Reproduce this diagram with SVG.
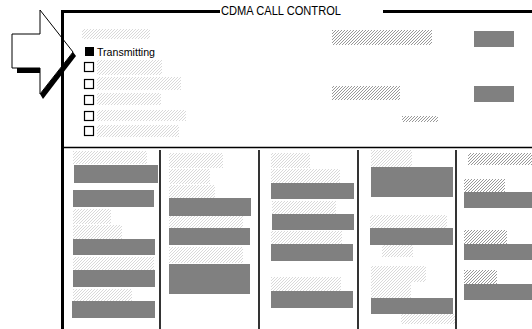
<svg xmlns="http://www.w3.org/2000/svg" width="532" height="329" viewBox="0 0 532 329">
<defs>
<pattern id="hl" patternUnits="userSpaceOnUse" width="3" height="3">
<path d="M-1,1 L1,-1 M0,3 L3,0 M2,4 L4,2" stroke="#cfcfcf" stroke-width="0.8"/>
</pattern>
<pattern id="hd" patternUnits="userSpaceOnUse" width="3" height="3">
<path d="M-1,1 L1,-1 M0,3 L3,0 M2,4 L4,2" stroke="#8c8c8c" stroke-width="0.9"/>
</pattern>
</defs>
<style>
.hl{fill:url(#hl)}
.hd{fill:url(#hd)}
.g{fill:#808080}
.cb{fill:#fff;stroke:#000;stroke-width:1.2}
.t{font-family:"Liberation Sans",Arial,sans-serif;fill:#000}
.div{stroke:#000;stroke-width:1.6}
</style>
<rect width="532" height="329" fill="#fff"/>

<g id="arrow">
<polygon points="17,68 40,68 40,73 17,73" fill="#000"/>
<polygon points="73,52 76,56 43,99 40,94" fill="#000"/>
<polygon points="12,34 40,34 40,10 73,52 40,94 40,68 12,68" fill="#fff" stroke="#000" stroke-width="1"/>
</g>

<g id="frame">
<rect x="61" y="10" width="3" height="319" fill="#000"/>
<rect x="61" y="10" width="159" height="3" fill="#000"/>
<rect x="383" y="10" width="149" height="3" fill="#000"/>
<text class="t" x="221" y="14.5" font-size="13" textLength="120" lengthAdjust="spacingAndGlyphs">CDMA CALL CONTROL</text>
<line class="div" x1="64" y1="147.5" x2="532" y2="147.5"/>
</g>

<g id="status-panel">
<rect class="hl" x="82" y="29" width="68" height="10"/>
<rect x="85" y="47" width="9" height="9" fill="#000"/>
<text class="t" x="97" y="55.5" font-size="11" textLength="58" lengthAdjust="spacingAndGlyphs">Transmitting</text>
<rect class="hl" x="97" y="60" width="65" height="15"/>
<rect class="cb" x="84.5" y="62.5" width="9" height="9"/>
<rect class="hl" x="97" y="77" width="84" height="13"/>
<rect class="cb" x="84.5" y="79.5" width="9" height="9"/>
<rect class="hl" x="97" y="93" width="64" height="12"/>
<rect class="cb" x="84.5" y="95.5" width="9" height="9"/>
<rect class="hl" x="97" y="110" width="89" height="11"/>
<rect class="cb" x="84.5" y="111.5" width="9" height="9"/>
<rect class="hl" x="97" y="125" width="82" height="12"/>
<rect class="cb" x="84.5" y="126.5" width="9" height="9"/>
</g>

<g id="summary-panel">
<rect class="hd" x="332" y="30" width="100" height="15"/>
<rect class="g" x="474" y="31" width="40" height="16"/>
<rect class="hd" x="332" y="86" width="68" height="14"/>
<rect class="g" x="474" y="86" width="40" height="16"/>
<rect class="hd" x="402" y="116" width="36" height="6"/>
</g>

<g id="column-dividers">
<line class="div" x1="160" y1="150" x2="160" y2="329"/>
<line class="div" x1="259" y1="150" x2="259" y2="329"/>
<line class="div" x1="358" y1="150" x2="358" y2="329"/>
<line class="div" x1="456" y1="150" x2="456" y2="329"/>
</g>

<g id="column-1">
<rect class="hl" x="73" y="151" width="74" height="13"/>
<rect class="g" x="74" y="165" width="84" height="18"/>
<rect class="g" x="73" y="190" width="81" height="17"/>
<rect class="hl" x="73" y="209" width="38" height="15"/>
<rect class="hl" x="73" y="225" width="49" height="14"/>
<rect class="g" x="73" y="239" width="82" height="16"/>
<rect class="hl" x="73" y="257" width="81" height="13"/>
<rect class="g" x="73" y="270" width="82" height="17"/>
<rect class="hl" x="73" y="289" width="59" height="12"/>
<rect class="g" x="72" y="301" width="83" height="17"/>
</g>

<g id="column-2">
<rect class="hl" x="169" y="153" width="54" height="15"/>
<rect class="hl" x="169" y="169" width="41" height="15"/>
<rect class="hl" x="169" y="185" width="46" height="13"/>
<rect class="g" x="169" y="198" width="82" height="18"/>
<rect class="hl" x="169" y="216" width="74" height="12"/>
<rect class="g" x="169" y="228" width="81" height="17"/>
<rect class="hl" x="169" y="247" width="74" height="16"/>
<rect class="g" x="169" y="264" width="81" height="30"/>
</g>

<g id="column-3">
<rect class="hl" x="271" y="153" width="39" height="15"/>
<rect class="hl" x="271" y="169" width="69" height="14"/>
<rect class="g" x="271" y="183" width="83" height="16"/>
<rect class="hl" x="272" y="201" width="64" height="13"/>
<rect class="g" x="272" y="214" width="82" height="16"/>
<rect class="hl" x="271" y="231" width="71" height="13"/>
<rect class="g" x="271" y="244" width="82" height="17"/>
<rect class="hl" x="271" y="277" width="70" height="14"/>
<rect class="g" x="271" y="291" width="82" height="17"/>
</g>

<g id="column-4">
<rect class="hl" x="371" y="150" width="41" height="17"/>
<rect class="g" x="371" y="167" width="82" height="30"/>
<rect class="hl" x="370" y="215" width="77" height="13"/>
<rect class="g" x="370" y="228" width="83" height="17"/>
<rect class="hl" x="382" y="245" width="31" height="12"/>
<rect class="hl" x="371" y="266" width="55" height="16"/>
<rect class="hl" x="371" y="282" width="40" height="16"/>
<rect class="g" x="371" y="298" width="82" height="16"/>
<rect class="hl" x="401" y="314" width="54" height="10"/>
</g>

<g id="column-5">
<rect class="hd" x="468" y="153" width="64" height="12"/>
<rect class="hd" x="464" y="179" width="41" height="13"/>
<rect class="g" x="464" y="192" width="68" height="16"/>
<rect class="hd" x="464" y="230" width="43" height="14"/>
<rect class="g" x="464" y="244" width="68" height="16"/>
<rect class="hd" x="464" y="270" width="33" height="14"/>
<rect class="g" x="464" y="284" width="68" height="16"/>
</g>

<g id="connectors"/>
</svg>
